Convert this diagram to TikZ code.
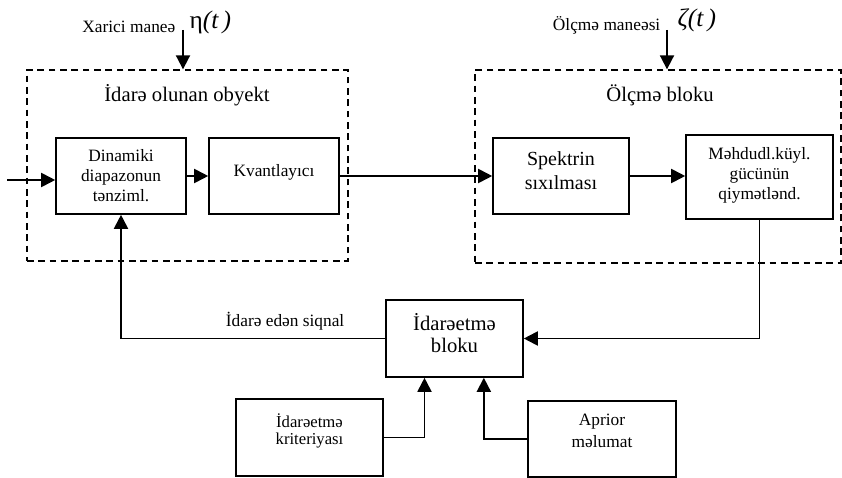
\documentclass[tikz,border=0pt]{standalone}
\usepackage{fontspec}
\setmainfont{Liberation Serif}
\usetikzlibrary{arrows.meta}

\begin{document}
\begin{tikzpicture}[x=0.75pt,y=-0.75pt,
  blok/.style={draw,line width=1.2pt,align=center,inner sep=2pt},
  qrup/.style={draw,dash pattern=on 5pt off 3.5pt,line width=1pt},
  ox/.style={-{Triangle[length=10.5pt,width=10.5pt]},line width=1.4pt},
  yazi/.style={font=\fontsize{13}{15}\selectfont}]
\useasboundingbox (0,0) rectangle (842,478);

\node[qrup,minimum width=240.75pt,minimum height=143.25pt] (obj) at (187.5,165.5) {};
\node[qrup,minimum width=274.5pt,minimum height=144.75pt] (olc) at (658,166.5) {};
\node[font=\fontsize{15.5}{16}\selectfont] (objad) at (187,95) {İdarə olunan obyekt};
\node[font=\fontsize{15.5}{16}\selectfont] (olcad) at (660,95) {Ölçmə bloku};

\node[blok,yazi,minimum width=97.5pt,minimum height=57pt] (dyn) at (121,176) {Dinamiki\\diapazonun\\tənziml.};
\node[blok,yazi,minimum width=97.5pt,minimum height=57pt,text depth=9pt] (kvant) at (274,176) {Kvantlayıcı};
\node[blok,font=\fontsize{15}{18}\selectfont,minimum width=102pt,minimum height=57pt,text depth=7.5pt] (spektr) at (561,176) {Spektrin\\sıxılması};
\node[blok,yazi,minimum width=110.25pt,minimum height=63pt,text depth=6pt] (mehd) at (759.5,177) {Məhdudl.küyl.\\gücünün\\qiymətlənd.};
\node[blok,font=\fontsize{15.5}{16.5}\selectfont,minimum width=102.75pt,minimum height=57.75pt,text depth=8pt] (ctrl) at (454.5,338.5) {İdarəetmə\\bloku};
\node[blok,font=\fontsize{12.5}{12.75}\selectfont,minimum width=110.25pt,minimum height=57.75pt,text depth=13pt] (krit) at (309.5,437.5) {İdarəetmə\\kriteriyası};
\node[blok,font=\fontsize{13}{16.5}\selectfont,minimum width=111pt,minimum height=57pt,text depth=12pt] (aprior) at (602,439) {Aprior\\məlumat};

\coordinate (giris) at (7,180);
\draw[ox] (giris) -- (giris -| dyn.west);
\draw[ox] (dyn.east) -- (kvant.west);
\draw[ox] (kvant.east) -- (spektr.west);
\draw[ox] (spektr.east) -- (mehd.west |- spektr.east);
\draw[ox] (mehd.south) |- (ctrl.east);
\draw[ox] (ctrl.west) -| (dyn.south);
\draw[ox] (krit.east) -| ([xshift=-22.5pt]ctrl.south);
\draw[ox] (aprior.west) -| ([xshift=22pt]ctrl.south);
\node[yazi,anchor=east] (siqnal) at (349,321) {İdarə edən siqnal};

\coordinate (eta) at (183,30);
\draw[ox] (eta) -- (eta |- obj.north);
\node[yazi,anchor=east] (xarici) at (180,27) {Xarici maneə};
\node[anchor=west,font=\fontsize{19}{19}\selectfont] (etaad) at (185,22) {η\textit{(t\,)}};

\coordinate (zeta) at (667,30);
\draw[ox] (zeta) -- (zeta |- olc.north);
\node[yazi,anchor=east] (olcmane) at (665,25) {Ölçmə maneəsi};
\node[anchor=west,font=\fontsize{19}{19}\selectfont] (zetaad) at (673,20) {\textit{ζ(t\,)}};
\end{tikzpicture}
\end{document}
